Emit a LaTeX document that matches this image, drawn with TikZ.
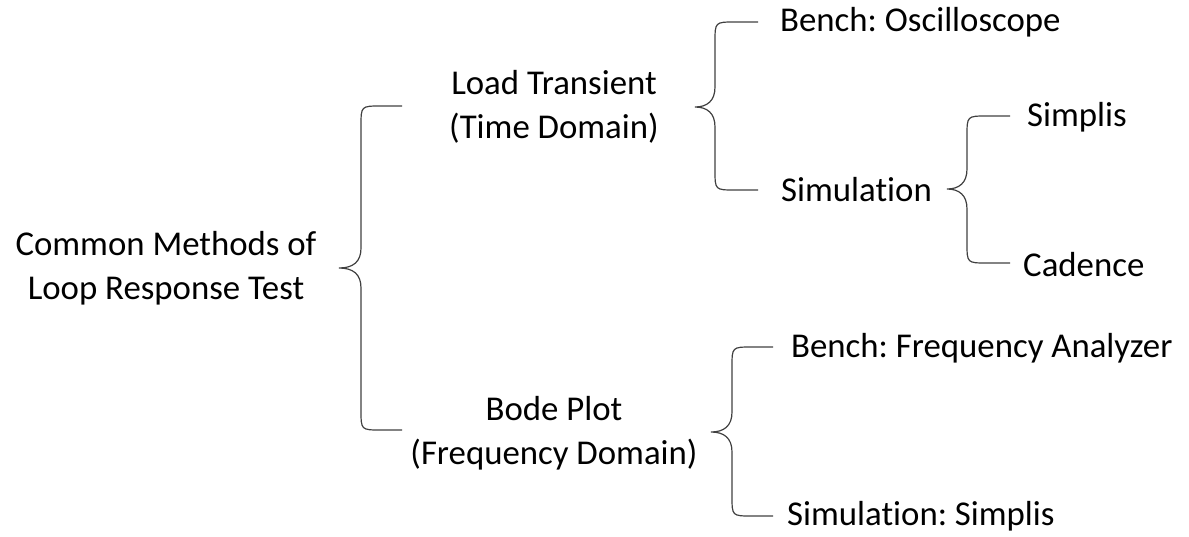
\documentclass[tikz,border=0pt]{standalone}
\usepackage{fontspec}
\setmainfont{Carlito}[Ligatures=NoCommon]
\frenchspacing
\newcommand\brc[6]{%
  \draw[bracestyle] (#3,#4) -- ({#2+20},#4) .. controls (#2,#4) .. (#2,{#4+20})
    -- (#2,{#5-20}) .. controls (#2,{#5-6}) and ({#2-8},#5) .. (#1,#5)
    .. controls ({#2-8},#5) and (#2,{#5+6}) .. (#2,{#5+20})
    -- (#2,{#6-20}) .. controls (#2,#6) .. ({#2+20},#6) -- (#3,#6);}
\begin{document}
\begin{tikzpicture}[x=1pt,y=-1pt,
  bracestyle/.style={draw=black!75,line width=1.2pt},
  lbl/.style={inner sep=0pt,font=\fontsize{34.8}{44}\selectfont,text=black}]
\useasboundingbox (0,0) rectangle (1189,536);
\node[lbl,align=center] (root) at (166,268) {Common Methods of\\Loop Response Test};
\node[lbl,align=center] (lt) at (554,107) {Load Transient\\(Time Domain)};
\node[lbl,align=center] (bp) at (554,433) {Bode Plot\\(Frequency Domain)};
\node[lbl,anchor=west] (osc) at (780,22) {Bench: Oscilloscope};
\node[lbl,anchor=west] (sim) at (781,190) {Simulation};
\node[lbl,anchor=west] (simplis) at (1027,117) {Simplis};
\node[lbl,anchor=west] (cad) at (1023,265) {Cadence};
\node[lbl,anchor=west] (bfa) at (791,348) {Bench: Frequency Analyzer};
\node[lbl,anchor=west] (ss) at (787,516) {Simulation: Simplis};
\brc{339}{361}{402}{106}{268}{430}
\brc{695}{715}{758}{22}{107}{190}
\brc{947}{967}{1010}{116}{189}{263}
\brc{711}{732}{773}{347}{432}{516}
\end{tikzpicture}
\end{document}
